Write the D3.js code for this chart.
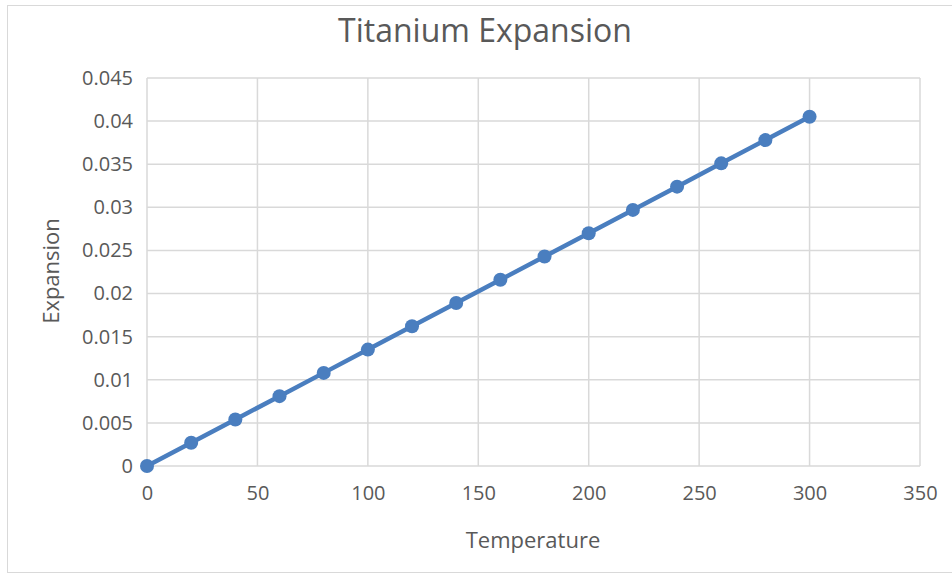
<!DOCTYPE html>
<html>
<head>
<meta charset="utf-8">
<script src="https://cdn.jsdelivr.net/npm/d3@7"></script>
<style>
  body { margin: 0; background: #fff; }
  text { font-family: "Open Sans", sans-serif; fill: #595959; }
</style>
</head>
<body>
<div id="chart"></div>
<script>
// chart size and plot margins
const width = 952;
const height = 577;
const margin = { left: 147, right: 32, top: 78, bottom: 111 };

// data
const temperature = [0, 20, 40, 60, 80, 100, 120, 140, 160, 180, 200, 220, 240, 260, 280, 300];
const expansion = [0, 0.0027, 0.0054, 0.0081, 0.0108, 0.0135, 0.0162, 0.0189, 0.0216,
  0.0243, 0.027, 0.0297, 0.0324, 0.0351, 0.0378, 0.0405];
const xTicks = [0, 50, 100, 150, 200, 250, 300, 350];
const yTicks = [0, 0.005, 0.01, 0.015, 0.02, 0.025, 0.03, 0.035, 0.04, 0.045];

const points = temperature.map((t, i) => ({ t: t, e: expansion[i] }));

const svg = d3.select("#chart")
  .append("svg")
  .attr("width", width)
  .attr("height", height);

// outer chart border
svg.append("rect")
  .attr("x", 7.5).attr("y", 5.5)
  .attr("width", width + 10).attr("height", 567)
  .attr("fill", "none")
  .attr("stroke", "#d9d9d9");

const xScale = d3.scaleLinear()
  .domain([0, 350])
  .range([margin.left, width - margin.right]);

const yScale = d3.scaleLinear()
  .domain([0, 0.045])
  .range([height - margin.bottom, margin.top]);

// gridlines
svg.append("g")
  .selectAll("line")
  .data(xTicks)
  .enter()
  .append("line")
  .attr("x1", d => xScale(d)).attr("x2", d => xScale(d))
  .attr("y1", yScale(0.045)).attr("y2", yScale(0))
  .attr("stroke", "#d9d9d9").attr("stroke-width", 1.5);

svg.append("g")
  .selectAll("line")
  .data(yTicks)
  .enter()
  .append("line")
  .attr("x1", xScale(0)).attr("x2", xScale(350))
  .attr("y1", d => yScale(d)).attr("y2", d => yScale(d))
  .attr("stroke", "#d9d9d9").attr("stroke-width", 1.5);

// axes (labels only)
const xAxis = svg.append("g")
  .attr("transform", `translate(0,${height - margin.bottom})`)
  .call(d3.axisBottom(xScale).tickValues(xTicks).tickSize(0).tickPadding(20)
    .tickFormat(d3.format("d")));

const yAxis = svg.append("g")
  .attr("transform", `translate(${margin.left},0)`)
  .call(d3.axisLeft(yScale).tickValues(yTicks).tickSize(0).tickPadding(14)
    .tickFormat(d => String(+d.toFixed(3))));

[xAxis, yAxis].forEach(a => {
  a.select(".domain").remove();
  a.selectAll("text")
    .attr("font-size", "20px")
    .attr("font-family", "Open Sans, sans-serif")
    .attr("fill", "#595959");
});

// line and markers
svg.append("path")
  .datum(points)
  .attr("fill", "none")
  .attr("stroke", "#4a7ebf")
  .attr("stroke-width", 4.5)
  .attr("d", d3.line().x(d => xScale(d.t)).y(d => yScale(d.e)));

svg.selectAll(".dot")
  .data(points)
  .enter()
  .append("circle")
  .attr("class", "dot")
  .attr("cx", d => xScale(d.t))
  .attr("cy", d => yScale(d.e))
  .attr("r", 7)
  .attr("fill", "#4a7ebf");

// titles
svg.append("text")
  .attr("x", 485).attr("y", 42)
  .attr("text-anchor", "middle")
  .attr("font-size", "32px")
  .text("Titanium Expansion");

svg.append("text")
  .attr("x", 533).attr("y", 548)
  .attr("text-anchor", "middle")
  .attr("font-size", "22px")
  .text("Temperature");

svg.append("text")
  .attr("transform", `translate(59,271) rotate(-90)`)
  .attr("text-anchor", "middle")
  .attr("font-size", "22px")
  .text("Expansion");
</script>
</body>
</html>
